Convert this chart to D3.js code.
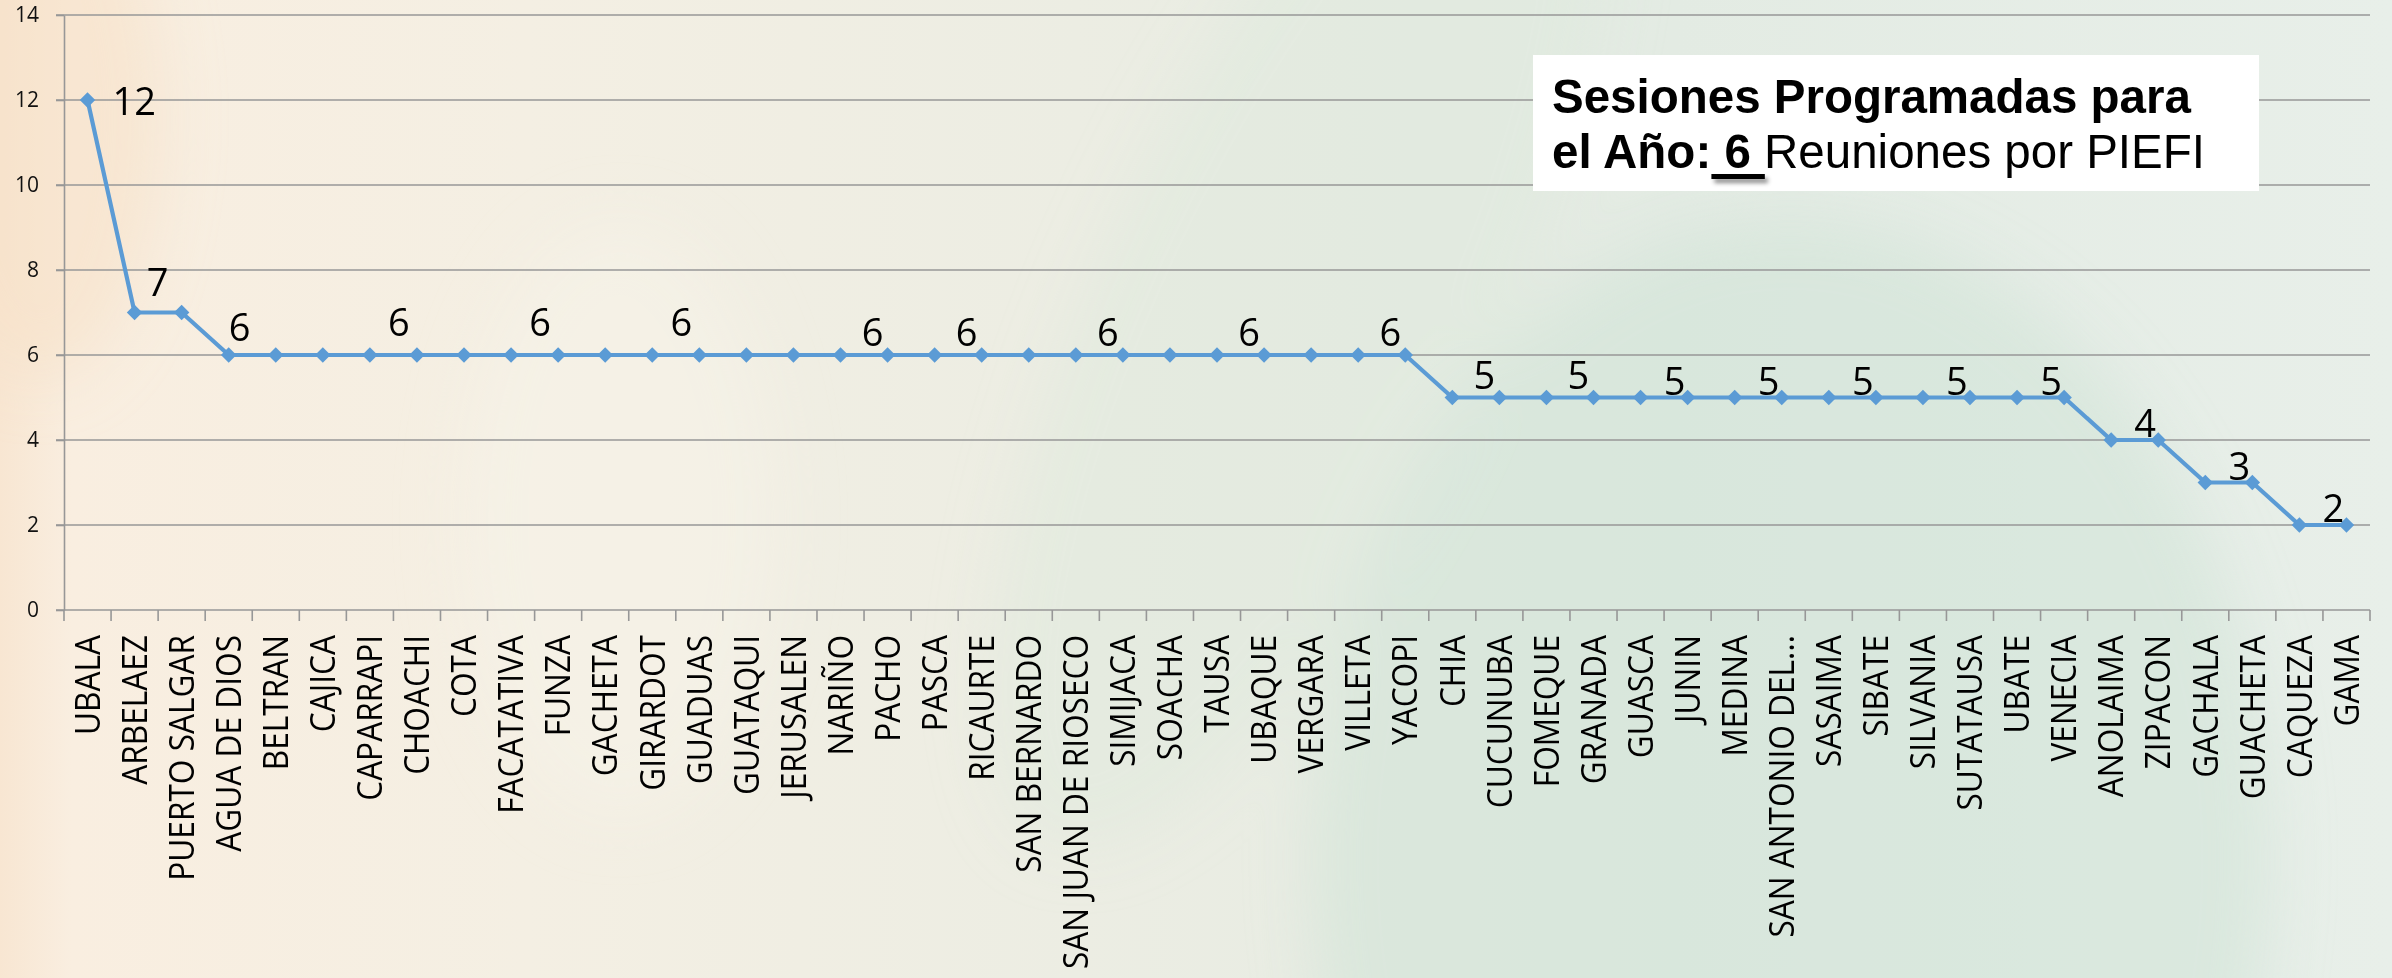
<!DOCTYPE html>
<html>
<head>
<meta charset="utf-8">
<script src="https://cdn.jsdelivr.net/npm/d3@7"></script>
<style>
  body { margin: 0; overflow: hidden; background: #eef0e6; }
</style>
</head>
<body>
<script>
// sesiones programadas por municipio
const municipios = [
  "UBALA", "ARBELAEZ", "PUERTO SALGAR", "AGUA DE DIOS", "BELTRAN", "CAJICA",
  "CAPARRAPI", "CHOACHI", "COTA", "FACATATIVA", "FUNZA", "GACHETA", "GIRARDOT",
  "GUADUAS", "GUATAQUI", "JERUSALEN", "NARIÑO", "PACHO", "PASCA", "RICAURTE",
  "SAN BERNARDO", "SAN JUAN DE RIOSECO", "SIMIJACA", "SOACHA", "TAUSA", "UBAQUE",
  "VERGARA", "VILLETA", "YACOPI", "CHIA", "CUCUNUBA", "FOMEQUE", "GRANADA",
  "GUASCA", "JUNIN", "MEDINA", "SAN ANTONIO DEL...", "SASAIMA", "SIBATE",
  "SILVANIA", "SUTATAUSA", "UBATE", "VENECIA", "ANOLAIMA", "ZIPACON", "GACHALA",
  "GUACHETA", "CAQUEZA", "GAMA"
];
const sesiones = [
  12, 7, 7, 6, 6, 6, 6, 6, 6, 6, 6, 6, 6, 6, 6, 6, 6, 6, 6, 6, 6, 6, 6, 6, 6, 6,
  6, 6, 6, 5, 5, 5, 5, 5, 5, 5, 5, 5, 5, 5, 5, 5, 5, 4, 4, 3, 3, 2, 2
];
const yTicks = [0, 2, 4, 6, 8, 10, 12, 14];
// points that carry a value label
const labelAt = [0, 1, 3, 7, 10, 13, 17, 19, 22, 25, 28, 30, 32, 34, 36, 38, 40, 42, 44, 46, 48];

const titleLine1 = "Sesiones Programadas para";
const titleLine2 = ["el Año: ", "6", " Reuniones por PIEFI"];

const W = 2392, H = 978;
const plot = { left: 64, right: 2370, top: 15, bottom: 610 };
const blue = "#5b9bd5";
const grid = "#979797";

const svg = d3.select("body").append("svg")
  .attr("width", W)
  .attr("height", H);

// ---- background
const defs = svg.append("defs");
const bg = defs.append("linearGradient").attr("id", "bg");
[["0%", "#f8e6d2"], ["3%", "#f9eee0"], ["22%", "#f4efe3"], ["45%", "#ecede3"], ["70%", "#e3ebe3"], ["100%", "#e8efe9"]]
  .forEach(s => bg.append("stop").attr("offset", s[0]).attr("stop-color", s[1]));

defs.append("filter").attr("id", "soft")
  .attr("x", "-50%").attr("y", "-50%").attr("width", "200%").attr("height", "200%")
  .append("feGaussianBlur").attr("stdDeviation", 30);

const sh = defs.append("filter").attr("id", "shadow")
  .attr("x", "-20%").attr("y", "-100%").attr("width", "160%").attr("height", "400%");
sh.append("feDropShadow").attr("dx", 3).attr("dy", 4).attr("stdDeviation", 2)
  .attr("flood-color", "#000").attr("flood-opacity", 0.45);

svg.append("rect").attr("width", W).attr("height", H).attr("fill", "url(#bg)");

const deco = svg.append("g").attr("filter", "url(#soft)");
deco.append("ellipse")
  .attr("cx", 1790).attr("cy", 860).attr("rx", 480).attr("ry", 640)
  .attr("fill", "#cfe4d7").attr("opacity", 0.55);
deco.append("ellipse")
  .attr("cx", 1300).attr("cy", 300).attr("rx", 200).attr("ry", 600)
  .attr("fill", "#dbe8dd").attr("opacity", 0.4)
  .attr("transform", "rotate(25,1300,300)");
deco.append("ellipse")
  .attr("cx", 40).attr("cy", 120).attr("rx", 120).attr("ry", 260)
  .attr("fill", "#f6e1c8").attr("opacity", 0.6);
deco.append("ellipse")
  .attr("cx", 620).attr("cy", 520).attr("rx", 160).attr("ry", 300)
  .attr("fill", "#f7f3ea").attr("opacity", 0.5);

// ---- scales
const x = d3.scaleBand().domain(municipios).range([plot.left, plot.right]);
const y = d3.scaleLinear().domain([0, 14]).range([plot.bottom, plot.top]);
const cx = m => x(m) + x.bandwidth() / 2;

// ---- gridlines
svg.append("g").selectAll("line")
  .data(yTicks)
  .join("line")
  .attr("x1", plot.left - 8)
  .attr("x2", plot.right)
  .attr("y1", d => y(d))
  .attr("y2", d => y(d))
  .attr("stroke", grid)
  .attr("stroke-width", 1.6);

// ---- y axis
const yAxis = svg.append("g")
  .attr("transform", `translate(${plot.left},0)`)
  .call(d3.axisLeft(y).tickValues(yTicks).tickSize(8).tickSizeOuter(0).tickPadding(17));
yAxis.select(".domain").attr("stroke", grid).attr("stroke-width", 1.6);
yAxis.selectAll(".tick line").attr("stroke", grid).attr("stroke-width", 1.6);
yAxis.selectAll(".tick text")
  .attr("font-family", "Open Sans")
  .attr("font-size", "21px")
  .attr("fill", "#111");

// ---- x axis: boundary ticks + rotated names
const xg = svg.append("g").attr("transform", `translate(0,${plot.bottom})`);
const bounds = municipios.map(m => x(m)).concat([plot.right]);
xg.selectAll("line.tk")
  .data(bounds)
  .join("line")
  .attr("class", "tk")
  .attr("x1", d => d).attr("x2", d => d)
  .attr("y1", 0).attr("y2", 11)
  .attr("stroke", grid)
  .attr("stroke-width", 1.6);

xg.selectAll("text")
  .data(municipios)
  .join("text")
  .attr("transform", d => `translate(${cx(d)},25) rotate(-90) scale(0.93,1)`)
  .attr("text-anchor", "end")
  .attr("dy", "0.36em")
  .attr("font-family", "Open Sans")
  .attr("font-size", "34px")
  .attr("fill", "#000")
  .text(d => d);

// ---- series line + diamonds
const line = d3.line()
  .x((d, i) => cx(municipios[i]))
  .y(d => y(d));

svg.append("path")
  .datum(sesiones)
  .attr("d", line)
  .attr("fill", "none")
  .attr("stroke", blue)
  .attr("stroke-width", 4.2)
  .attr("stroke-linejoin", "round");

const diamond = d3.symbol(d3.symbolSquare, 120);
svg.append("g").selectAll("path")
  .data(sesiones)
  .join("path")
  .attr("d", diamond)
  .attr("transform", (d, i) => `translate(${cx(municipios[i])},${y(d)}) rotate(45)`)
  .attr("fill", blue);

// ---- value labels
function labelPos(i) {
  if (i === 0) return { dx: 25, dy: 15, anchor: "start" };
  if (i === 1) return { dx: 23, dy: -17, anchor: "middle" };
  if (i === 3) return { dx: 11, dy: -14, anchor: "middle" };
  if (i <= 13) return { dx: -18, dy: -19, anchor: "middle" };
  if (i <= 32) return { dx: -15, dy: -9, anchor: "middle" };
  return { dx: -13, dy: -3, anchor: "middle" };
}

svg.append("g").selectAll("text")
  .data(labelAt)
  .join("text")
  .each(function(i) {
    const p = labelPos(i);
    d3.select(this)
      .attr("x", cx(municipios[i]) + p.dx)
      .attr("y", y(sesiones[i]) + p.dy)
      .attr("text-anchor", p.anchor);
  })
  .attr("font-family", "Open Sans")
  .attr("font-size", "38px")
  .attr("fill", "#000")
  .text(i => sesiones[i]);

// ---- title box
svg.append("rect")
  .attr("x", 1533).attr("y", 55)
  .attr("width", 726).attr("height", 136)
  .attr("fill", "#fff");

const title = svg.append("g")
  .attr("font-family", "Liberation Sans, Arial, sans-serif")
  .attr("font-size", "47.5px")
  .attr("fill", "#000");

title.append("text")
  .attr("x", 1552).attr("y", 113)
  .attr("font-weight", "bold")
  .text(titleLine1);

const t2 = title.append("text")
  .attr("x", 1552).attr("y", 168)
  .style("white-space", "pre");
t2.append("tspan").attr("font-weight", "bold").text(titleLine2[0]);
t2.append("tspan").attr("font-weight", "bold").text(titleLine2[1]);
t2.append("tspan").text(titleLine2[2]);

// underline with a soft shadow under the "6"
const k = titleLine2[0].length;
const x0 = t2.node().getStartPositionOfChar(k).x;
const x1 = t2.node().getEndPositionOfChar(k).x;
title.append("rect")
  .attr("x", x0 - 13).attr("y", 174)
  .attr("width", x1 - x0 + 27).attr("height", 5)
  .attr("fill", "#000")
  .attr("filter", "url(#shadow)");
</script>
</body>
</html>
